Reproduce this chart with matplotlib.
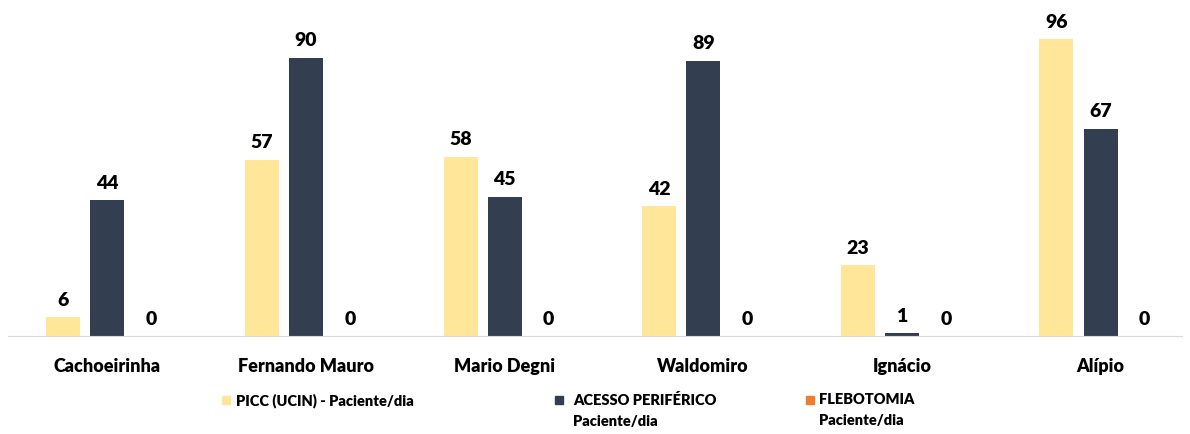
import numpy as np
import matplotlib.pyplot as plt

plt.rcParams['font.family'] = ['Lato', 'DejaVu Sans']
plt.rcParams['font.weight'] = 'bold'

# dados
unidades = ['Cachoeirinha', 'Fernando Mauro', 'Mario Degni', 'Waldomiro', 'Ignácio', 'Alípio']
picc = [6, 57, 58, 42, 23, 96]
acesso = [44, 90, 45, 89, 1, 67]
flebotomia = [0, 0, 0, 0, 0, 0]

series = [picc, acesso, flebotomia]
nomes = ['PICC (UCIN) - Paciente/dia', 'ACESSO PERIFÉRICO\nPaciente/dia', 'FLEBOTOMIA\nPaciente/dia']
cores = ['#ffe699', '#333f50', '#ed7d31']

fig = plt.figure(figsize=(11.9, 4.35), dpi=100)
ax = fig.add_axes([8/1190, 1 - 337/435, 1174/1190, 0.7113])

x = np.arange(len(unidades))
w = 0.171
off = 0.222
for i, (vals, cor) in enumerate(zip(series, cores)):
    pos = x + (i - 1) * off
    ax.bar(pos, vals, w, color=cor)
    for p, v in zip(pos, vals):
        ax.text(p, v + 3, str(v), ha='center', va='bottom', fontsize=14, fontweight='heavy')

ax.set_xlim(-0.5, 5.41)
ax.set_ylim(0, 100)
ax.set_xticks(x)
ax.set_xticklabels(unidades, fontsize=13, fontweight='heavy')
ax.tick_params(axis='x', length=0, pad=15)
ax.set_yticks([])
for s in ['top', 'right', 'left']:
    ax.spines[s].set_visible(False)
ax.spines['bottom'].set_color('#d9d9d9')

# legenda manual
leg_x = [222, 555, 806]
txt_x = [236, 573, 819]
for lx, tx, nome, cor in zip(leg_x, txt_x, nomes, cores):
    fig.patches.append(plt.Rectangle((lx/1190, 1 - 405/435), 8/1190, 8/435,
                                     transform=fig.transFigure, color=cor, figure=fig))
    fig.text(tx/1190, 1 - 393/435, nome, ha='left', va='top', fontsize=10.5,
             fontweight='heavy', linespacing=1.75)

fig.savefig('out.png', dpi=100)
